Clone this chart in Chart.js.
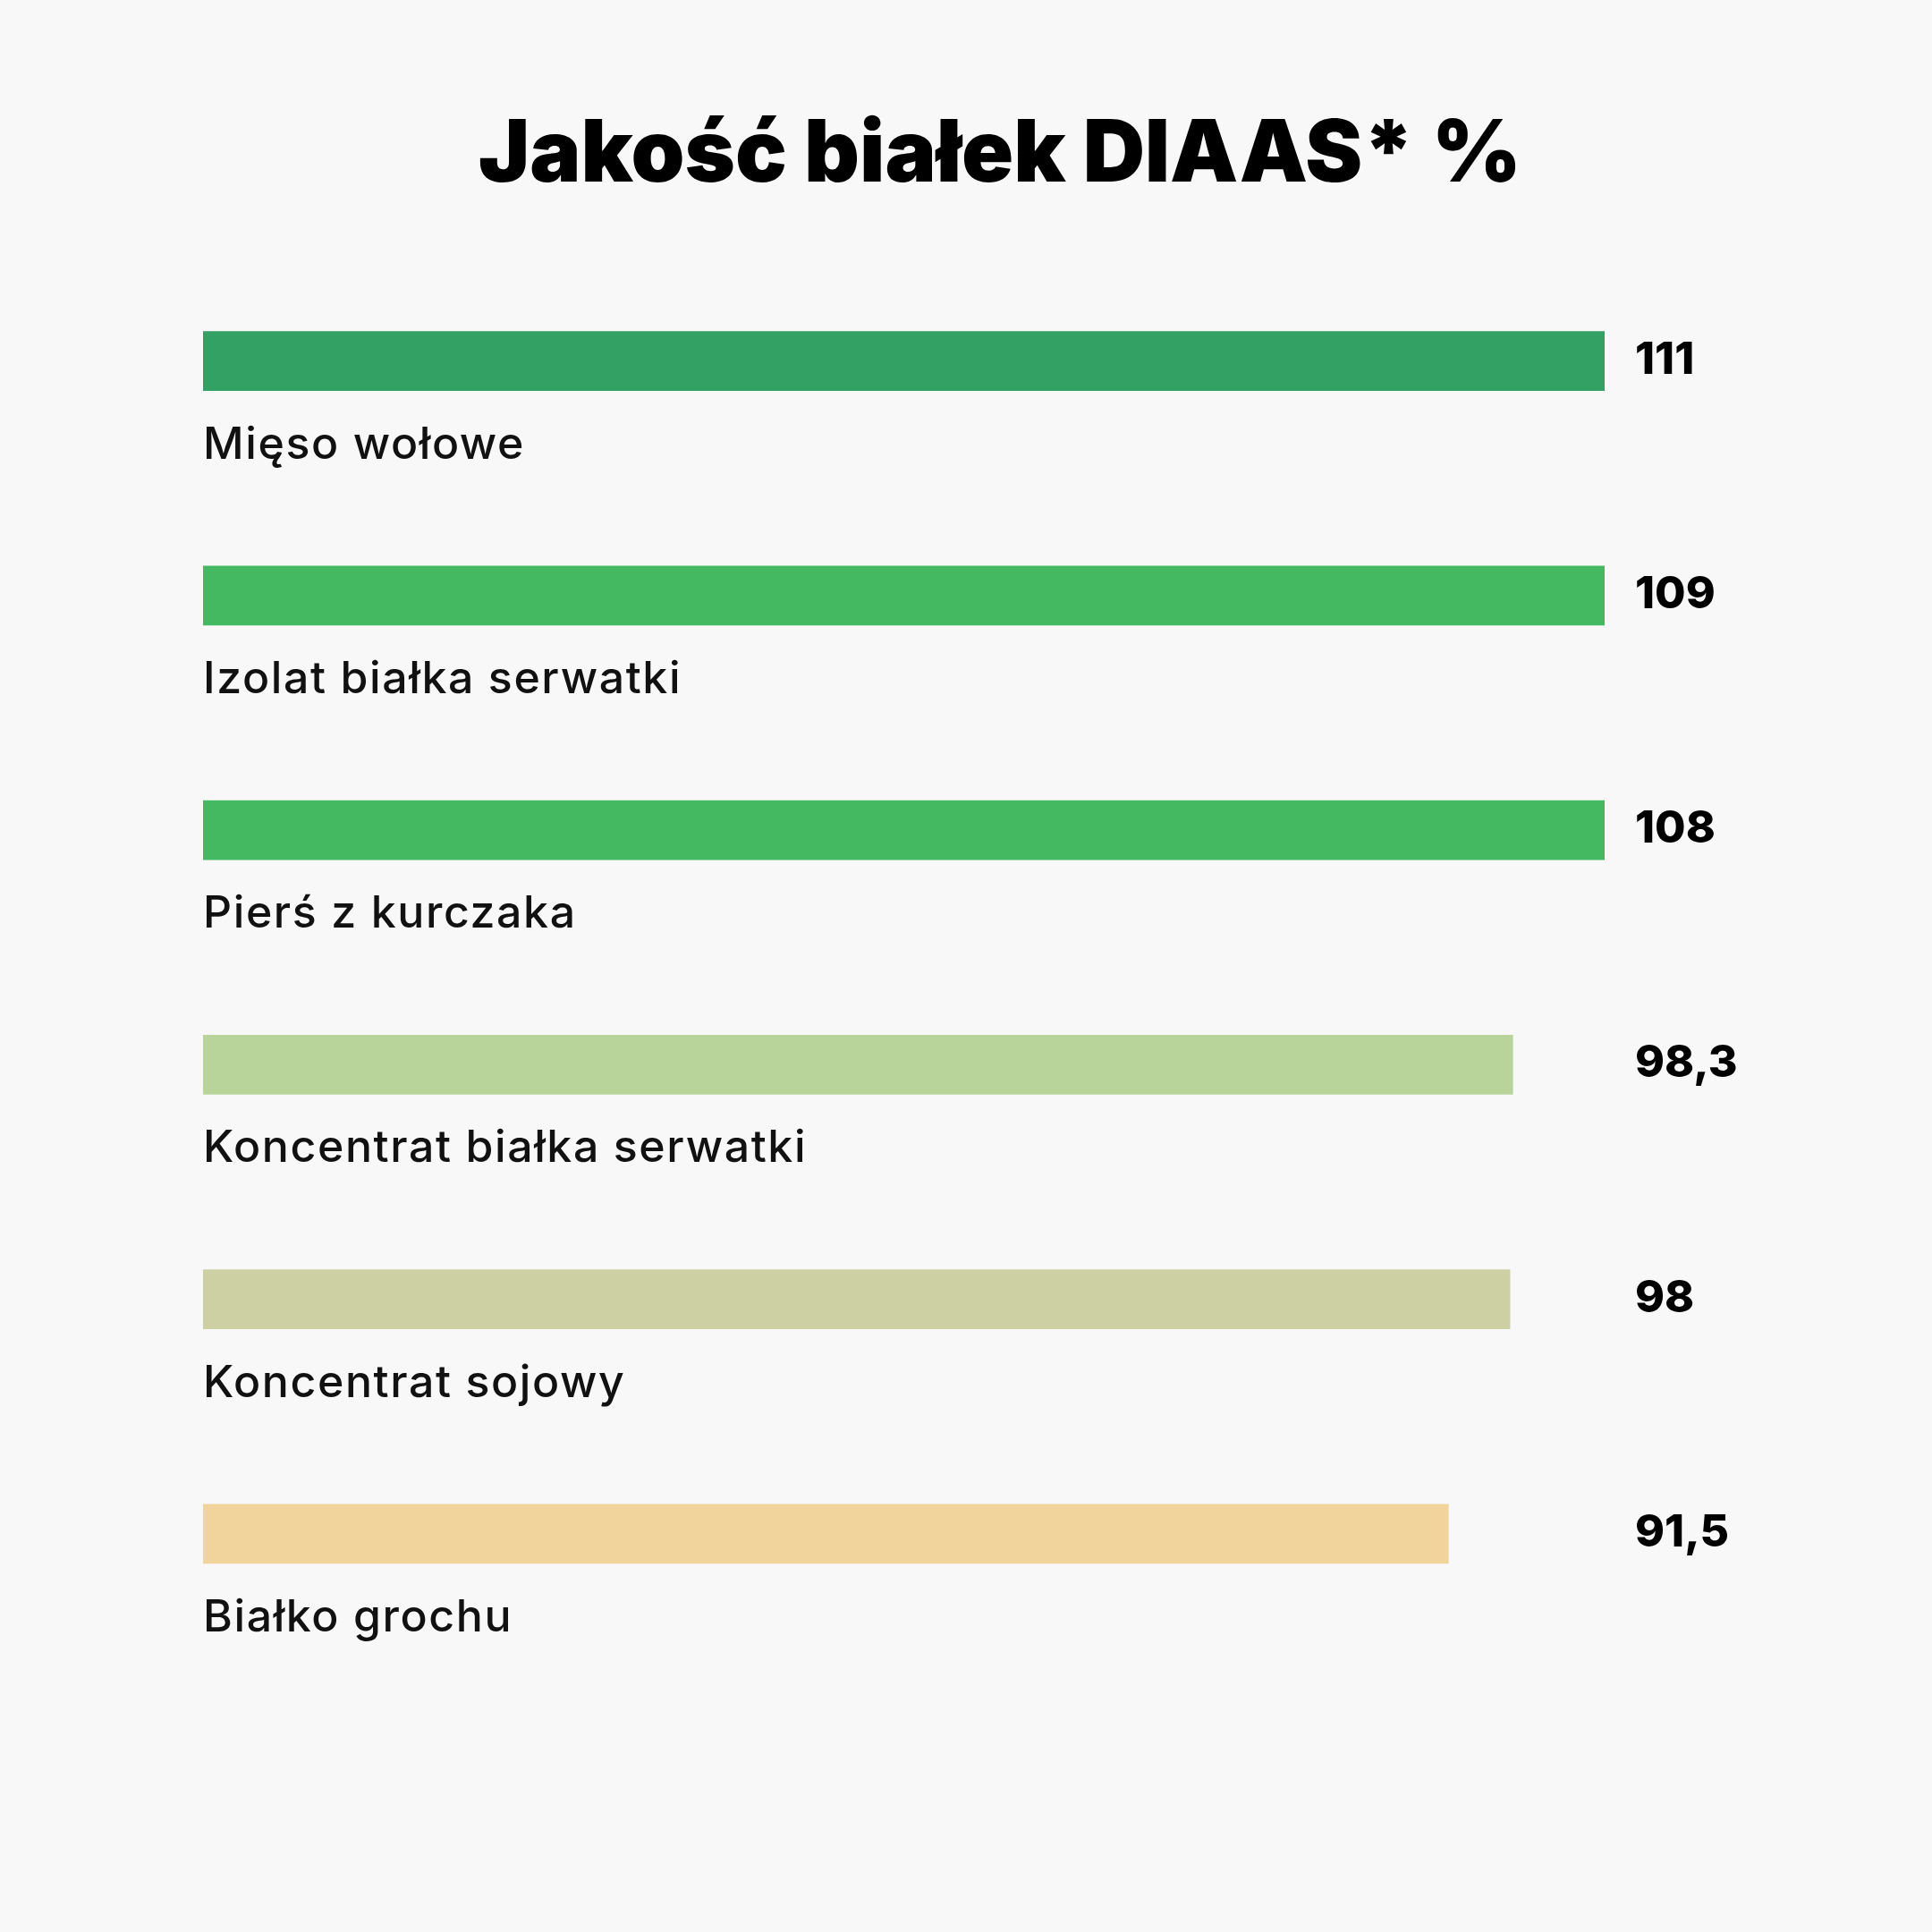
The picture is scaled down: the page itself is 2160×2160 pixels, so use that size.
<!DOCTYPE html>
<html lang="pl">
<head>
<meta charset="utf-8">
<title>Jakość białek DIAAS* %</title>
<script src="https://cdn.jsdelivr.net/npm/chart.js@4.4.1/dist/chart.umd.min.js"></script>
<style>
    html, body { margin: 0; padding: 0; background: #f8f8f8; }
    #zone { width: 2160px; height: 2160px; }
</style>
</head>
<body>
<div id="zone"><canvas id="graphique" width="2160" height="2160"></canvas></div>
<script>
// ==========================================================
// DONNEES
// ==========================================================
const categories = [
    "Mięso wołowe",
    "Izolat białka serwatki",
    "Pierś z kurczaka",
    "Koncentrat białka serwatki",
    "Koncentrat sojowy",
    "Białko grochu"
];
const valeursDiaas = [111, 109, 108, 98.3, 98, 91.5];
const couleursBarres = ["#33a064", "#45b962", "#45b962", "#b8d49a", "#cdd0a3", "#f1d39c"];
const titre = "Jakość białek DIAAS* %";

// bornes de l'axe (caché) : les barres partent de la borne basse
const axeMin = -40;
const axeMax = 108;

// ==========================================================
// PLUGIN : titre, libellés sous les barres, valeurs à droite
// ==========================================================
const pluginEtiquettes = {
    id: 'etiquettes',
    afterDatasetsDraw(chart) {
        const ctx = chart.ctx;
        const zone = chart.chartArea;
        const meta = chart.getDatasetMeta(0);
        ctx.save();

        // titre
        ctx.font = '900 96px Inter, "Noto Sans", sans-serif';
        ctx.fillStyle = '#000000';
        ctx.textAlign = 'center';
        ctx.textBaseline = 'alphabetic';
        ctx.fillText(titre, 1118, 203);

        meta.data.forEach((barre, i) => {
            // nom de la catégorie sous la barre
            ctx.font = '500 50px Inter, "Noto Sans", sans-serif';
            ctx.letterSpacing = '1.6px';
            ctx.fillStyle = '#111111';
            ctx.textAlign = 'left';
            ctx.fillText(chart.data.labels[i], zone.left, barre.y + 109);

            // valeur en gras, alignée à droite du graphique
            ctx.font = '800 50px Inter, "Noto Sans", sans-serif';
            ctx.letterSpacing = '0px';
            ctx.fillStyle = '#000000';
            const texte = String(chart.data.datasets[0].data[i]).replace('.', ',');
            ctx.fillText(texte, zone.right + 34, barre.y + 14);
        });
        ctx.restore();
    }
};

// ==========================================================
// GRAPHIQUE
// ==========================================================
const ctx = document.getElementById('graphique').getContext('2d');
new Chart(ctx, {
    type: 'bar',
    data: {
        labels: categories,
        datasets: [{
            data: valeursDiaas,
            backgroundColor: couleursBarres,
            borderWidth: 0,
            barThickness: 66,
            base: axeMin
        }]
    },
    options: {
        indexAxis: 'y',
        responsive: false,
        devicePixelRatio: 1,
        animation: false,
        layout: { padding: { top: 272.5, left: 227, right: 366, bottom: 314 } },
        plugins: {
            legend: { display: false },
            tooltip: { enabled: false },
            title: { display: false }
        },
        scales: {
            x: { display: false, min: axeMin, max: axeMax },
            y: { display: false, grid: { display: false } }
        }
    },
    plugins: [pluginEtiquettes]
});
</script>
</body>
</html>
